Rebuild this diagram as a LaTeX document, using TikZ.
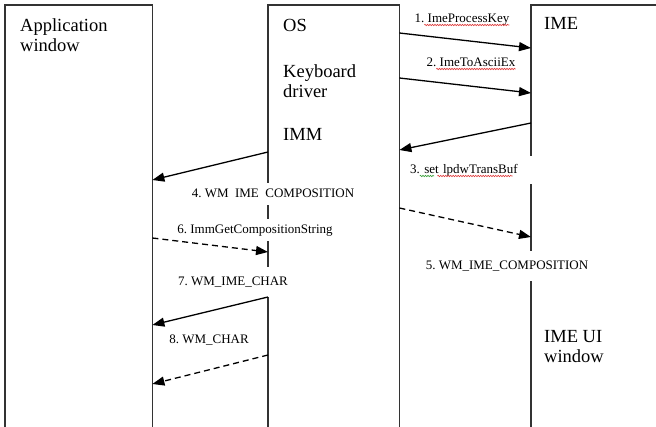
\documentclass[tikz,border=0pt]{standalone}
\usepackage{fontspec}
\setmainfont{Liberation Serif}
\usepackage{tikz}
\usetikzlibrary{positioning, arrows.meta, calc, decorations.pathmorphing}
\usepackage{xcolor}
\definecolor{lanegray}{HTML}{333333}
\definecolor{wavered}{HTML}{E03C3C}
\definecolor{wavegreen}{HTML}{3CA03C}

\begin{document}
\begin{tikzpicture}[
  x=1pt, y=-1pt,
  lane/.style={inner sep=0pt, minimum width=#1, minimum height=440pt, anchor=north west},
  laneline/.style={draw=lanegray, line width=1.1pt},
  title/.style={anchor=north west, inner sep=0pt, align=left,
                font=\fontsize{18.5}{20.5}\selectfont},
  msglabel/.style={fill=white, inner xsep=12pt, inner ysep=4.5pt,
                   text height=10pt, text depth=3pt,
                   font=\fontsize{13}{15}\selectfont\frenchspacing},
  msg/.style={-{Triangle[length=12pt,width=9pt]}, line width=1.3pt},
  reply/.style={msg, dash pattern=on 6pt off 4pt},
  % spell-check squiggles
  redwave/.style={draw=wavered, line width=0.6pt, decorate,
                  decoration={snake, amplitude=0.7pt, segment length=2.5pt}},
  greenwave/.style={redwave, draw=wavegreen},
]
  \useasboundingbox (0,0) rectangle (656,427);
  % Lanes
  \node[lane=147pt] (app) at (5,5) {};
  \node[lane=131pt] (os) at (268,5) {};
  \node[lane=140pt] (ime) at (531,5) {};
  \draw[laneline] (app.south west) |- (app.north east) -- (app.south east);
  \draw[laneline] (os.south west) |- (os.north east) -- (os.south east);
  \draw[laneline] (ime.south west) |- (ime.north east);
  % Lane titles
  \node[title] (apptitle) at (20,18) {Application\\window};
  \node[title] (ostitle) at (283,19.5) {OS};
  \node[title] (kbd) at (283,64) {Keyboard\\driver};
  \node[title] (imm) at (283,128) {IMM};
  \node[title] (imetitle) at (544,17) {IME};
  \node[title] (imeui) at (544,330) {IME UI\\window};
  % Message labels
  \node[msglabel] (m1) at (462,19) {1. ImeProcessKey};
  \node[msglabel] (m2) at (471,63) {2. ImeToAsciiEx};
  \node[msglabel, inner xsep=6pt, inner ysep=7.5pt, text width=122pt, align=left,
        anchor=west] (m3) at (404,170) {3. set lpdwTransBuf};
  \node[msglabel] (m4) at (273,194) {4. WM\hphantom{\_}IME\hphantom{\_}COMPOSITION};
  \node[msglabel, inner ysep=8.5pt] (m5) at (507,266) {5. WM\_IME\_COMPOSITION};
  \node[msglabel] (m6) at (255,230) {6. ImmGetCompositionString};
  \node[msglabel, inner ysep=8.5pt] (m7) at (233,282) {7. WM\_IME\_CHAR};
  \node[msglabel] (m8) at (209,340) {8. WM\_CHAR};
  % Squiggles under the API names
  \draw[redwave] ([shift={(21.75pt,-2.5pt)}]m1.base west) -- ([shift={(-12pt,-2.5pt)}]m1.base east);
  \draw[redwave] ([shift={(21.75pt,-2.5pt)}]m2.base west) -- ([shift={(-12pt,-2.5pt)}]m2.base east);
  \draw[greenwave] ([shift={(15.75pt,-2.5pt)}]m3.base west) -- ([shift={(30.2pt,-2.5pt)}]m3.base west);
  \draw[redwave] ([shift={(33.4pt,-2.5pt)}]m3.base west) -- ([shift={(108.5pt,-2.5pt)}]m3.base west);
  % Messages
  \draw[msg] ([yshift=-28pt]os.north east) -- ([yshift=-43pt]ime.north west);
  \draw[msg] ([yshift=-73pt]os.north east) -- ([yshift=-88pt]ime.north west);
  \draw[msg] ([yshift=-118pt]ime.north west) -- ([yshift=-145pt]os.north east);
  \draw[msg] ([yshift=-147pt]os.north west) -- ([yshift=-175pt]app.north east);
  \draw[reply] ([yshift=-203pt]os.north east) -- ([yshift=-232pt]ime.north west);
  \draw[reply] ([yshift=-233pt]app.north east) -- ([yshift=-247pt]os.north west);
  \draw[msg] ([yshift=-292pt]os.north west) -- ([yshift=-320pt]app.north east);
  \draw[reply] ([yshift=-350pt]os.north west) -- ([yshift=-379pt]app.north east);
\end{tikzpicture}
\end{document}
